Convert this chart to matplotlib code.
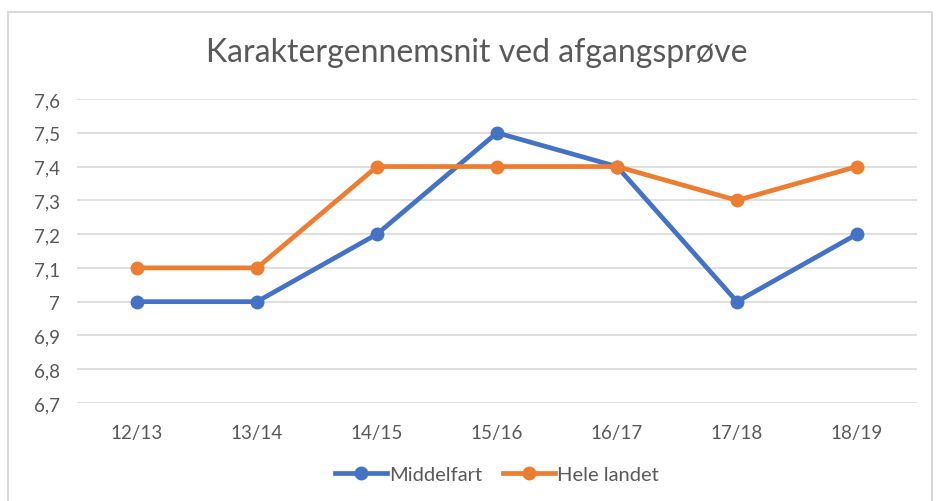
import matplotlib.pyplot as plt
from matplotlib.patches import Rectangle

# data
years = ['12/13', '13/14', '14/15', '15/16', '16/17', '17/18', '18/19']
middelfart = [7.0, 7.0, 7.2, 7.5, 7.4, 7.0, 7.2]
hele_landet = [7.1, 7.1, 7.4, 7.4, 7.4, 7.3, 7.4]
yticks = [6.7, 6.8, 6.9, 7.0, 7.1, 7.2, 7.3, 7.4, 7.5, 7.6]
ytick_labels = ['6,7', '6,8', '6,9', '7', '7,1', '7,2', '7,3', '7,4', '7,5', '7,6']

plt.rcParams['font.family'] = ['Lato', 'DejaVu Sans']

fig = plt.figure(figsize=(9.37, 5.02), dpi=100)
ax = fig.add_axes([77 / 937, 1 - 404 / 502, 840 / 937, 304 / 502])

# chart frame
fig.patches.append(Rectangle((8 / 937, -0.01), 924 / 937, 1 - 13 / 502 + 0.01,
                             transform=fig.transFigure, fill=False,
                             edgecolor='#d9d9d9', linewidth=1.5))

x = range(len(years))
ax.plot(x, middelfart, color='#4472C4', linewidth=3.4, marker='o',
        markersize=9, label='Middelfart', zorder=3)
ax.plot(x, hele_landet, color='#ED7D31', linewidth=3.4, marker='o',
        markersize=9, label='Hele landet', zorder=3)

ax.set_xlim(-0.5, len(years) - 0.5)
ax.set_ylim(6.7, 7.6)
ax.set_yticks(yticks)
ax.set_yticklabels(ytick_labels)
ax.set_xticks(list(x))
ax.set_xticklabels(years)
ax.grid(axis='y', color='#d9d9d9', linewidth=1.2)
ax.set_axisbelow(True)
for s in ax.spines.values():
    s.set_visible(False)
ax.tick_params(length=0, colors='#595959', labelsize=13.5)
ax.tick_params(axis='x', pad=15)
ax.tick_params(axis='y', pad=12)

fig.text(477 / 937, 1 - 53 / 502, 'Karaktergennemsnit ved afgangsprøve',
         ha='center', va='center', fontsize=23, color='#595959')

ax.legend(loc='center', bbox_to_anchor=(0.5, (404 - 475) / 304), ncol=2,
          frameon=False, fontsize=14.5, labelcolor='#595959',
          handlelength=2.6, columnspacing=1.0, handletextpad=0.1)

fig.savefig('out.png', dpi=100)
